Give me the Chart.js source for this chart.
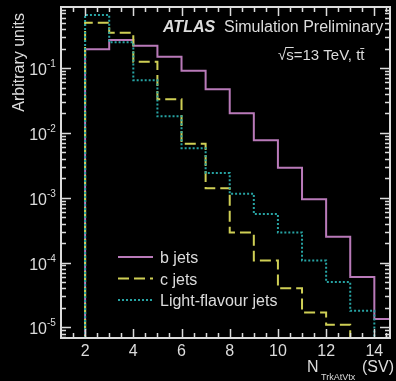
<!DOCTYPE html>
<html>
<head>
<meta charset="utf-8">
<script src="https://cdn.jsdelivr.net/npm/chart.js@4.4.0/dist/chart.umd.min.js"></script>
<style>
    html, body { margin: 0; padding: 0; background: #000; overflow: hidden; }
</style>
</head>
<body>
<canvas id="svChart" width="396" height="381"></canvas>
<script>
// Secondary vertex track multiplicity, normalised per flavour
const binEdges = [1, 2, 3, 4, 5, 6, 7, 8, 9, 10, 11, 12, 13, 14, 15];
const bJets = [0, 0.195, 0.27, 0.22, 0.15, 0.091, 0.047, 0.020, 0.0077, 0.0029, 9.5e-4, 2.5e-4, 6.0e-5, 1.35e-5];
const cJets = [0, 0.50, 0.35, 0.125, 0.033, 0.0068, 1.4e-3, 2.9e-4, 1.07e-4, 4.0e-5, 1.7e-5, 1.1e-5, 0, 0];
const lightJets = [0, 0.66, 0.25, 0.065, 0.018, 0.0058, 0.0024, 1.15e-3, 5.6e-4, 2.9e-4, 1.07e-4, 5.0e-5, 1.8e-5, 0];
const seriesLabels = ['b jets', 'c jets', 'Light-flavour jets'];
const xTickLabels = [2, 4, 6, 8, 10, 12, 14];
const yTickExponents = [-1, -2, -3, -4, -5];

const X_MIN = 1, X_MAX = 14.65;
const Y_MIN = 6.85e-6, Y_MAX = 0.875;
const FG = '#dcdcdc';
const FONT = '"Liberation Sans", Arial, sans-serif';

const styles = [
    { color: '#b97ab9', dash: [] },
    { color: '#cfcf55', dash: [11, 5] },
    { color: '#27a3a3', dash: [2, 2] }
];

// empty bins sit on the floor of the log axis
function toSteps(values) {
    const pts = values.map((v, i) => ({ x: binEdges[i], y: v > 0 ? v : Y_MIN }));
    pts.push({ x: binEdges[values.length], y: pts[pts.length - 1].y });
    return pts;
}

const frameDecor = {
    id: 'frameDecor',
    afterDraw(chart) {
        const ctx = chart.ctx;
        const a = chart.chartArea;
        const xs = chart.scales.x;
        const ys = chart.scales.y;
        ctx.save();

        // frame
        ctx.strokeStyle = FG;
        ctx.lineWidth = 2;
        ctx.strokeRect(a.left, a.top, a.right - a.left, a.bottom - a.top);

        // x ticks, inward on bottom and top
        ctx.lineWidth = 1.5;
        for (let v = 1.5; v < X_MAX; v += 0.5) {
            const px = Math.round(xs.getPixelForValue(v)) + 0.5;
            const len = (v % 2 === 0) ? 9 : 5;
            ctx.beginPath();
            ctx.moveTo(px, a.bottom);
            ctx.lineTo(px, a.bottom - len);
            ctx.moveTo(px, a.top);
            ctx.lineTo(px, a.top + len);
            ctx.stroke();
        }

        // y ticks, log minor ticks on both sides
        for (let d = -6; d <= 0; d++) {
            for (let k = 1; k <= 9; k++) {
                const v = k * Math.pow(10, d);
                if (v < Y_MIN || v > Y_MAX) continue;
                const py = Math.round(ys.getPixelForValue(v)) + 0.5;
                const len = k === 1 ? 10 : 5;
                ctx.beginPath();
                ctx.moveTo(a.left, py);
                ctx.lineTo(a.left + len, py);
                ctx.moveTo(a.right, py);
                ctx.lineTo(a.right - len, py);
                ctx.stroke();
            }
        }

        ctx.fillStyle = FG;

        // x tick labels
        ctx.font = '16px ' + FONT;
        ctx.textAlign = 'center';
        ctx.textBaseline = 'alphabetic';
        xTickLabels.forEach(t => {
            ctx.fillText(String(t), xs.getPixelForValue(t), 356);
        });

        // y tick labels as 10^n
        yTickExponents.forEach(e => {
            const py = ys.getPixelForValue(Math.pow(10, e));
            ctx.font = '16px ' + FONT;
            ctx.textAlign = 'right';
            ctx.fillText('10', 47, py + 7);
            ctx.font = '10px ' + FONT;
            ctx.textAlign = 'left';
            ctx.fillText(String(e), 47, py - 1);
        });

        // axis titles
        ctx.save();
        ctx.translate(24, 13);
        ctx.rotate(-Math.PI / 2);
        ctx.font = '16px ' + FONT;
        ctx.textAlign = 'right';
        ctx.fillText('Arbitrary units', 0, 0);
        ctx.restore();

        ctx.textAlign = 'left';
        ctx.font = '16px ' + FONT;
        ctx.fillText('N', 307, 372);
        ctx.font = '9px ' + FONT;
        ctx.fillText('TrkAtVtx', 321, 380);
        ctx.font = '16px ' + FONT;
        ctx.fillText('(SV)', 362, 372);

        // experiment label
        ctx.font = 'italic bold 16px ' + FONT;
        ctx.fillText('ATLAS', 163, 32);
        ctx.font = '16px ' + FONT;
        ctx.fillText('Simulation Preliminary', 224, 32);

        // sqrt(s) line, with the bar of the root running over the s
        ctx.font = '15px ' + FONT;
        const rootW = ctx.measureText('\u221A').width;
        const sW = ctx.measureText('s').width;
        ctx.fillText('\u221As=13 TeV, tt\u0304', 278, 60);
        ctx.strokeStyle = FG;
        ctx.lineWidth = 1;
        ctx.beginPath();
        ctx.moveTo(278 + rootW - 1, 47.5);
        ctx.lineTo(278 + rootW + sW, 47.5);
        ctx.stroke();

        // legend
        const legendY = [257, 278.5, 300];
        seriesLabels.forEach((label, i) => {
            const st = styles[i];
            ctx.strokeStyle = st.color;
            ctx.lineWidth = 2;
            ctx.setLineDash(st.dash);
            ctx.beginPath();
            ctx.moveTo(118, legendY[i]);
            ctx.lineTo(153, legendY[i]);
            ctx.stroke();
            ctx.setLineDash([]);
            ctx.fillStyle = FG;
            ctx.font = '16px ' + FONT;
            ctx.fillText(label, 160, legendY[i] + 6);
        });

        ctx.restore();
    }
};

const seriesValues = [bJets, cJets, lightJets];
const datasets = seriesValues.map((vals, i) => ({
    label: seriesLabels[i],
    data: toSteps(vals),
    stepped: 'before',
    borderColor: styles[i].color,
    borderDash: styles[i].dash,
    borderWidth: 2,
    pointRadius: 0,
    fill: false,
    order: 3 - i
}));

new Chart(document.getElementById('svChart'), {
    type: 'line',
    data: { datasets: datasets },
    options: {
        responsive: false,
        animation: false,
        devicePixelRatio: 1,
        layout: { padding: { left: 61, right: 6, top: 7, bottom: 43 } },
        plugins: {
            legend: { display: false },
            tooltip: { enabled: false }
        },
        scales: {
            x: { type: 'linear', min: X_MIN, max: X_MAX, display: false },
            y: { type: 'logarithmic', min: Y_MIN, max: Y_MAX, display: false }
        }
    },
    plugins: [frameDecor]
});
</script>
</body>
</html>
